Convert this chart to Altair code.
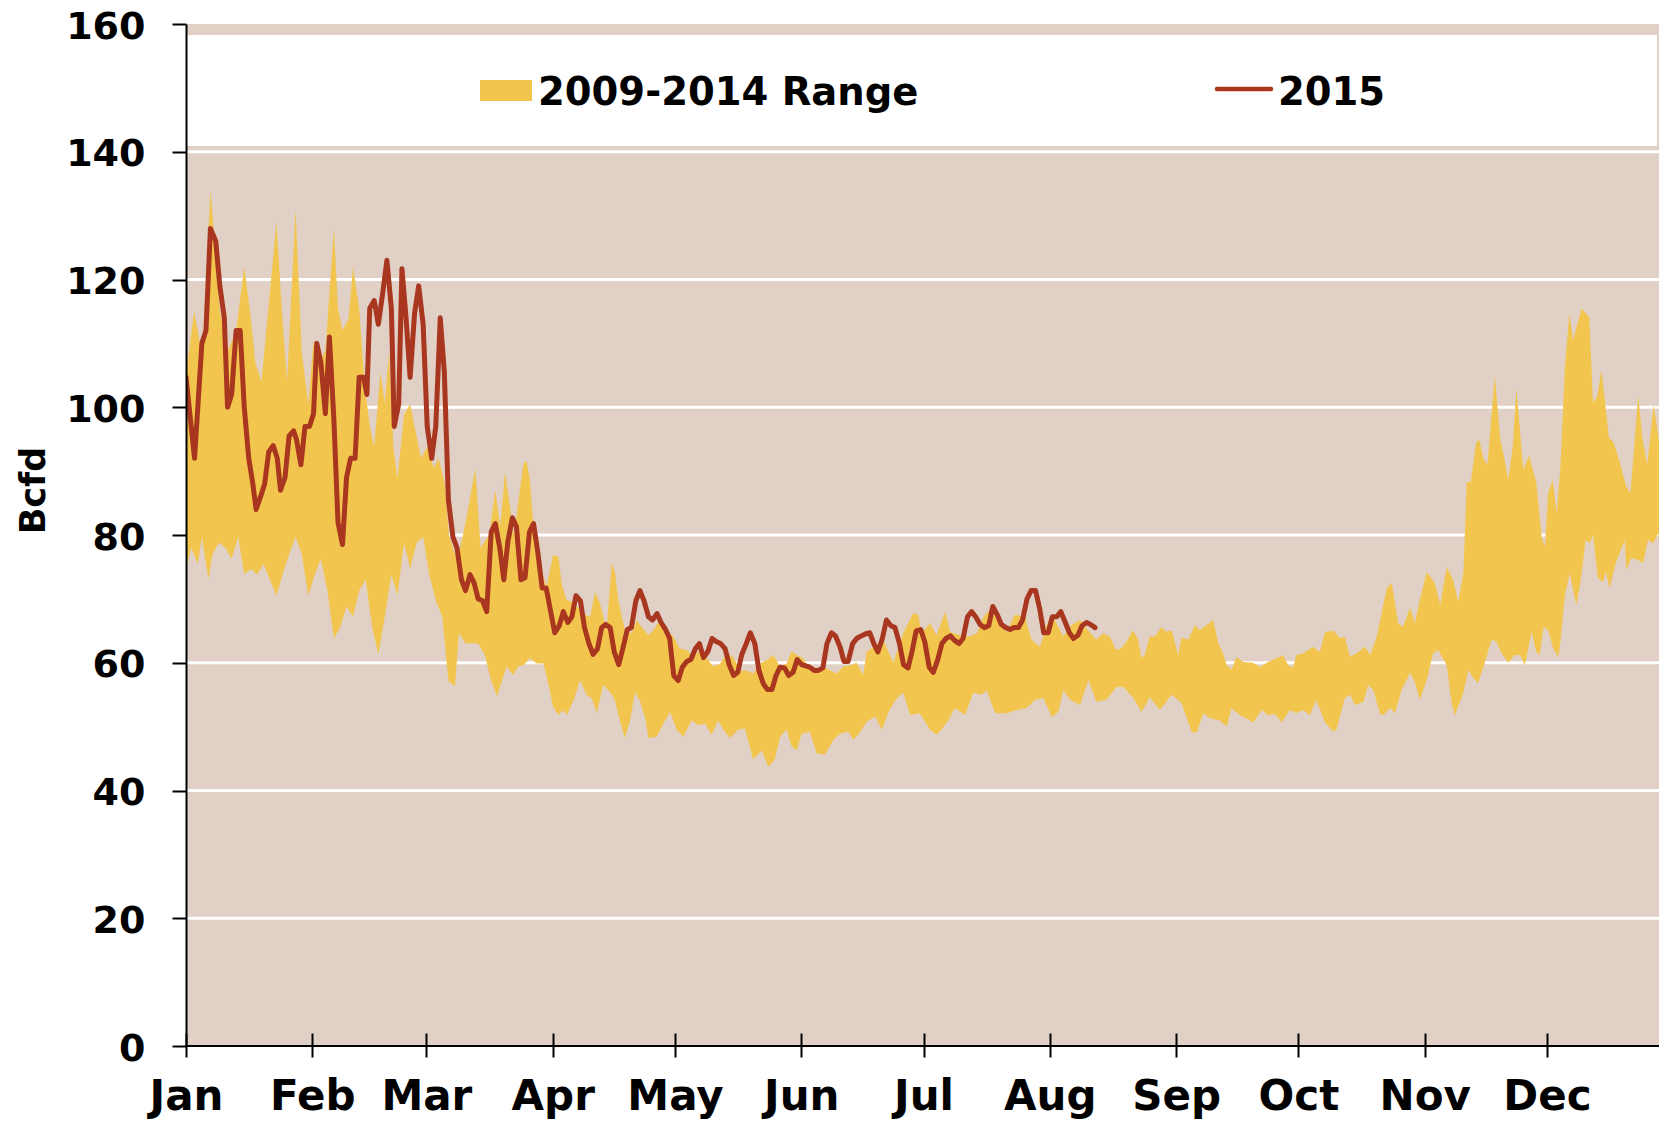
import altair as alt
import pandas as pd

# ---------------- data ----------------
month_names = ["Jan", "Feb", "Mar", "Apr", "May", "Jun", "Jul", "Aug", "Sep", "Oct", "Nov", "Dec"]
month_start_days = [0, 31, 59, 90, 120, 151, 181, 212, 243, 273, 304, 334]
y_ticks = [0, 20, 40, 60, 80, 100, 120, 140, 160]
grid_values = [20, 40, 60, 80, 100, 120, 140]

# 2009-2014 range: upper edge (day of year, Bcfd)
range_hi_days = [0, 2, 4, 6, 7.3, 8.3, 10.4, 12.3, 14.3, 15.9, 17, 18.5, 20, 22.2, 23.5, 24.8, 26.9, 28.4, 30, 31.3,
                 32.6, 34.2, 36.3, 37.3, 38.4, 39.9, 41, 42.5, 43.8, 45.1, 46.2, 47.7, 48.8, 49.8, 50.9, 51.9, 53.5, 55,
                 56.1, 57.7, 59.2, 60.8, 62, 63.5, 64.5, 65.5, 66.5, 68, 69.5, 71, 72.3, 74.4, 75.9,
                 77.1, 78.3, 79.5, 80.5, 82.8, 83.6, 84.4, 85.3, 86.9, 88.5, 90.1, 91.4, 92.2, 93.4, 94.7, 95.9, 97.5,
                 99.2, 100.4, 101.6, 103.2, 104.5, 105.3, 106.1, 107.7, 109.4, 110.6, 111.8, 113.5, 114.7, 116.3, 118,
                 119.6, 121.2, 122.9, 124.5, 126.1, 127.8, 129.4, 131.1, 132.7, 134.3, 136, 137.6, 139.2, 140.8, 142.5,
                 144.1, 145.8, 147.4, 148.6, 149.9, 151.5, 153.1, 154.8, 156.4, 158.1, 159.7, 161.3,
                 163, 164.6, 166.2, 167, 171.1, 173.6, 176, 178.5, 179.7, 180.5, 182.6, 184.2, 186.3, 187.5, 190, 192.4,
                 194.1, 195.7, 197.3, 199, 201.4, 203.4, 205.9, 207.5, 209.6, 211.2, 212.8, 215.3, 217.3, 219.4, 221,
                 223.4, 225.1, 226.7, 228.3, 229.6, 230.8, 232.4, 233.7, 234.5, 235.3, 236.5, 237.8, 239.4, 240.6,
                 241.9, 243.5, 244.3, 246, 247.6,
                 248.8, 252.1, 253.3, 254.5, 255.4, 256.6, 257.8, 259.5, 261.9, 263.6, 265.2, 267.6, 269.2, 270.5,
                 271.7, 272.5, 274.2, 276.6, 278.3, 279.5, 281.6, 283.2, 284.4, 285.7, 287.7, 289.3, 290.6, 292.2,
                 294.7, 295.9, 297.5, 298.7, 300.4, 301.6, 302.8, 304.5, 306.5, 307.8, 309.4, 311, 312.2, 313.5, 314.3,
                 315.3, 316.6, 317.4, 318.4, 319.4, 321.2, 322.5, 323.4, 324.5, 325.6, 326.5, 328.2, 329.6, 331.4,
                 332.7, 333.5, 334.3, 335.4, 336.4, 337.3, 338.4, 339.5, 340.4, 342.5, 344.4, 345.3, 346.3, 347.4,
                 349.2, 350.4, 351.9, 353.5, 354.5, 356.4, 357.4, 358.6, 360.2, 361.5, 363.3]
range_hi_vals = [105, 115, 108, 134, 124, 115, 109, 112, 122, 114, 107, 104, 114, 129, 115.5, 104, 131, 108.8, 100.5,
                 110.5, 107, 108.8, 128, 115.5, 112, 113.8, 122, 115.5, 104, 97, 93.8, 105.5, 100.5, 108.8, 93.8, 88.8,
                 98.8, 100.5, 97, 92, 93.8, 90.5, 92, 88, 80, 78, 76, 80, 85, 90.5, 78, 80, 87,
                 81.3, 89.9, 84.4, 80, 91.2, 91.5, 88.6, 81.3, 75, 71.9, 76.9, 76.6, 72.4, 69.8, 69.6, 68.8, 67.7,
                 67.2, 71.1, 69.3, 65.1, 75.6, 74.1, 69.8, 65.1, 64.6, 66.7, 65.6, 64.3, 65.1, 66.7, 65.1,
                 64.1, 62.2, 62, 60.9, 62, 60.7, 59.4, 59.9, 61.5, 60.9, 58.8, 58.8, 58.3, 59.9, 60.4,
                 61.2, 59.4, 59.9, 61.8, 61.2, 60.7, 58.8, 58.3, 59.4, 58.8, 58.3, 59.4,
                 59.6, 60, 58.1, 61.7, 63.6, 60, 64.6, 67.8, 67.5, 64.6, 66.2, 64.3, 68, 64.8, 64.3, 64.1,
                 64.6, 67.2, 68.3, 67, 64.8, 67.5, 67.2, 63.6, 62.5, 65.9, 67.2, 64.1, 65.9, 66.7, 65.4,
                 63.6, 64.6, 64.1, 62, 62.3, 63.3, 65.1, 63.6, 60.7, 61.2, 64.1, 64.1, 65.6, 64.8,
                 65.1, 61.2, 63.9, 63.6, 65.9,
                 65.1, 66.7, 63.1, 61.5, 59.6, 58.9, 60.9, 60.1, 60, 59.3, 60, 60.7, 61.2, 59.6,
                 59.2, 61.2, 61.5, 62.5, 61.7, 64.8, 65, 63.9, 64, 60.9, 61.7, 62.5, 61.2, 64,
                 71.7, 72.5, 66.2, 65.6, 68.6, 66.2, 69.8, 74.2, 72.5, 69, 75, 73, 69.5, 74, 88.3,
                 88.3, 94.4, 94.9, 92, 91, 105, 95.2, 92.5, 88.6, 93.8, 103, 90.2, 92.5, 88.1,
                 79.7, 78.1, 86.6, 88.6, 83.4, 90.6, 106.3, 114.7, 110.5, 115.5, 114, 100.7, 101.6, 105.8,
                 95.3, 94.4, 91.3, 87.5, 86.6, 101.9, 95.3, 91, 100.4, 94.6, 110.5]

# 2009-2014 range: lower edge
range_lo_days = [0, 1.3, 2.9, 3.9, 5.5, 6.5, 8.1, 9.7, 11.2, 12.8, 14.3, 15.9, 17.5, 19, 20.6, 22.2, 23.7, 25.3, 26.9,
                 28.4, 30, 31.6, 33.1, 34.7, 36.3, 37.8, 39.4, 41, 42.5, 44.1, 45.7, 47.2, 48.8, 50.4, 51.9, 53.5, 55,
                 56.6, 58.2, 59.7, 61.3, 62.9, 64.4, 66, 67, 68.6, 70.2, 71.7, 73.3, 74.9, 76.4,
                 77.1, 78.7, 80.3, 81.5, 82.8, 84.4, 86.1, 87.7, 88.9, 90.1, 91.4, 92.6, 93.4, 95.1, 96.7, 98.3, 99.6,
                 100.8, 102.4, 104.1, 105.3, 106.1, 107.7, 109, 110.2, 111.4, 112.7, 113.5, 115.5, 117.2, 118.8, 120.4,
                 122.1, 124.1, 125.7, 127.4, 129, 130.6, 131.9, 133.5, 135.5, 137.2, 139.2, 141.3, 142.9, 144.5, 145.8,
                 147.4, 148.6, 149.9, 151.1, 153.1, 154.8, 156.8, 158.9, 160.5, 162.6, 163.8, 165.5, 167.1, 169.1,
                 170.8, 172.4, 174.1,
                 176, 177.7, 180.1, 182.6, 184.2, 185.4, 187.1, 188.7, 191.2, 193.2, 195.3, 196.5, 198.6, 201.4, 203.9,
                 206.3, 208.4, 210.4, 212.5, 214.1, 215.3, 217, 219.4, 221.5, 223.4, 225.9, 228.4, 230, 232.4, 234.5,
                 236.5, 239, 241.9, 244.3, 246.8, 248, 249.7, 251.3, 253.7, 255.4, 256.6, 258.6, 261.1,
                 261.9, 264, 265.6, 267.2, 268.9, 270.9, 272.5, 274.2, 275.8, 277.4, 279.5, 281.6, 282.4, 284.4, 285.7,
                 286.9, 289, 290.1, 291.4, 293, 293.8, 295.5, 296.7, 298.3, 300.4, 301.6, 302.8, 304.5, 306.1, 307.3,
                 309.4, 310.6, 311.4, 313.5, 314.7, 315.9, 317.1, 318.8, 320.4, 321.6, 322.9, 324.5, 326.1, 327.4,
                 328.6, 330.2, 331.4, 332.2, 333.2, 334.3, 335.5, 336.8, 337.3, 338.4, 339.6, 341.2, 342.2, 343.5,
                 344.5, 345.3, 346.5, 347.8, 348.4, 349.4, 351, 353.1, 353.5, 354.7, 356.4, 357.6, 358.8, 360.1, 361.3,
                 362.5, 363.3]
range_lo_vals = [74.7, 78, 75.5, 79.7, 73, 77, 78.8, 78, 76.3, 79.7, 73.8, 74.7, 73.8, 75.5, 73, 70.5, 73.8, 77, 79.7,
                 77, 70.5, 73.8, 76.3, 71.3, 63.8, 65.5, 68.8, 67.2, 71.3, 73, 65.5, 61.3, 67.2, 73.8, 70.5, 78.8, 74.7,
                 78.8, 79.7, 73.8, 69.7, 67.2, 57.2, 56.3, 64.7, 63, 63, 63, 61.3, 57.2, 54.7,
                 56.3, 59.4, 58.1, 59.4, 59.6, 60.7, 59.9, 59.9, 56.8, 53.1, 51.8, 52.6, 51.8, 54, 57.3, 55, 54.4,
                 52.1, 56.5, 55.4, 54.1, 51.8, 48.2, 51, 55.4, 54, 51.3, 48.2, 48.4, 50.5, 52.3, 49.5,
                 48.4, 51, 50.2, 50.5, 48.7, 51, 49.5, 48.2, 49.5, 49.7, 44.8, 46.3, 43.7, 44.8, 48.4,
                 49.5, 46.9, 46.3, 48.9, 49.2, 45.8, 45.6, 47.9, 48.9, 49.2, 47.9, 49.2, 50.8, 51.6,
                 49.5, 52.3, 54.1,
                 55.4, 51.8, 52.1, 49.5, 48.7, 49.5, 51, 52.9, 51.8, 55.3, 55, 55.7, 52.1, 52.1, 52.6,
                 52.9, 54.2, 54.5, 51.5, 52.3, 55.7, 54.2, 53.4, 57.3, 53.9, 54.2, 56.2, 56.2, 54.6, 52.3,
                 54.6, 52.6, 55, 53.7, 49.2, 49, 52.1, 51.3, 51, 50, 52.9, 51.8, 51,
                 50.6, 52.6, 51.8, 52, 50.7, 52.6, 52.1, 52.6, 51.8, 54.2, 50.7, 49.2, 49.6, 54.5, 55,
                 53.4, 53.9, 56.5, 55.7, 52.1, 51.8, 52.9, 52.1, 55.7, 58.4, 57, 54.2, 57.3, 61.5, 62,
                 59.6, 53.7, 51.8, 55.3, 58.9, 57.6, 56.8, 60.1, 63.6, 63.3, 61.5, 60, 61.2, 61.2,
                 59.6, 64.8, 61.7, 61.2, 65.6, 65.1, 62.3, 60.9, 63.1, 70.6, 74, 69, 72.5, 79.2,
                 78.7, 80, 73.3, 72.6, 74.2, 71.7, 75.8, 79.2, 74.5, 76.4, 76.1, 75.6, 79.2, 78.7, 80.3,
                 72.5, 71.1]

# 2015 series
line_days = [0, 2.1, 3.9, 4.9, 6, 7.3, 8.3, 9.4, 10.2, 11.2, 12.3, 13.3, 14.3, 15.4, 16.4, 17.2, 18.3, 19.3, 20.3,
             21.4, 22.4, 23.2, 24.3, 25.3, 26.4, 27.1, 28.2, 29.2, 30.3, 31.3, 32.1, 33.1, 34.2, 35.2, 36.3, 37.3,
             38.4, 39.4, 40.4, 41.5, 42.5, 43.6, 44.4, 45.1, 46.2, 47.2, 48.3, 49.3, 50.4, 51.1, 52.2, 53, 54, 55,
             56.1, 57.1, 58.2, 59.2, 60.3, 61.3, 62.4, 63.4, 64.4, 65.5, 66.5, 67.6, 68.6, 69.7, 70.7, 71.7, 72.8,
             73.8, 74.9, 75.9, 77, 78, 79, 80.1, 81.1, 82.2, 83.2, 84.3, 85.3, 86.4, 87.4, 88.4, 89.5, 90.5, 91.6,
             92.6, 93.7, 94.7, 95.7, 96.8, 97.8, 98.9, 99.9, 101, 102, 103, 104.1, 105.1, 106.2, 107.2, 108.3, 109.3,
             110.4, 111.4, 112.4, 113.5, 114.5, 115.6, 116.6, 117.7, 118.7, 119.7, 120.8, 121.8, 122.9, 123.9, 125,
             126, 127, 128.1, 129.1, 130.2, 131.2, 132.3, 133.3, 134.4, 135.4, 136.4, 137.5, 138.5, 139.6, 140.6,
             141.7, 142.7, 143.8, 144.8, 145.8, 146.9, 147.9, 149, 150, 151.1, 152.1, 153.1, 154.2, 155.2, 156.3,
             157.3, 158.4, 159.4, 160.5, 161.5, 162.5, 163.6, 164.6, 165.7, 166.7, 167.8, 168.8, 169.8, 170.9, 171.9,
             173, 174, 175.1, 176.1, 177.2, 178.2, 179.2, 180.3, 181.3, 182.4, 183.4, 184.5, 185.5, 186.5, 187.6,
             188.6, 189.7, 190.7, 191.8, 192.8, 193.8, 194.9, 195.9, 197, 198, 199.1, 200.1, 201.2, 202.2, 203.2,
             204.3, 205.3, 206.4, 207.4, 208.5, 209.5, 210.5, 211.6, 212.6, 213.7, 214.7, 215.8, 216.8, 217.8, 218.9,
             219.9, 221, 222, 223.1]
line_vals = [104.7, 92, 110, 112, 128, 126, 119, 114, 100, 102, 112, 112, 100, 92, 88, 84, 86, 88, 93,
             94, 92, 87, 89, 95.5, 96.3, 95, 91, 97, 97, 99, 110, 107, 99, 111, 98, 82,
             78.5, 89, 92, 92, 104.7, 104.7, 102, 115.5, 116.7, 113, 118, 123, 115.5, 97, 100.5, 121.7, 114, 104.7,
             114.7, 119, 113, 97, 92, 97, 114, 105.5, 85.5, 79.7, 78, 73, 71.3, 73.8, 72.5, 70, 69.7,
             68, 80.5, 81.8, 78, 73, 79, 82.7, 81.3, 73, 73.3, 80.5, 81.8, 77, 71.7, 71.7, 68, 64.7, 65.8,
             68, 66.3, 67.2, 70.5, 69.7, 65.5, 63, 61.3, 62.2, 65.5, 66, 65.5, 61.7, 59.7, 62.2, 65.2, 65.5,
             69.7, 71.3, 69.7, 67.2, 66.7, 67.7, 66.3, 65.2, 63.8, 58, 57.2, 59.3, 60.2, 60.5, 62.2,
             63, 60.8, 61.8, 63.8, 63.3, 63, 62.2, 59.7, 58, 58.5, 61.3, 63, 64.7, 63, 58.8,
             56.7, 55.8, 55.8, 58, 59.3, 59.2, 58, 58.5, 60.5, 59.7, 59.5, 59.3, 58.8, 58.8, 59.2,
             63, 64.7, 64.2, 62.5, 60.2, 60.2, 63, 63.8, 64.2, 64.5, 64.7, 63, 61.7, 63.8, 66.7,
             65.8, 65.5, 63, 59.7, 59.2, 61.8, 65, 65.2, 63.3, 59.3, 58.5, 60.5, 63, 63.8, 64.2,
             63.5, 63, 63.8, 67.2, 68, 67.2, 66, 65.5, 65.8, 68.8, 67.5, 66, 65.5, 65.2, 65.5,
             65.5, 66.7, 70, 71.3, 71.3, 68.5, 64.7, 64.7, 67.2, 67.2, 68, 66.3, 64.7, 63.8, 64.3,
             65.8, 66.3, 66, 65.5]

legend_labels = ["2009-2014 Range", "2015"]

# ---------------- styling ----------------
TAN = "#E0D0C5"
YELLOW = "#F2C64E"
RED = "#A9361E"
FONT = "DejaVu Sans"
W, H = 1473, 1022
X_END = 361.5

# polygon of the range: upper edge left->right, then lower edge right->left
poly = pd.DataFrame({
    "day": range_hi_days + range_lo_days[::-1],
    "val": range_hi_vals + range_lo_vals[::-1],
})
poly["seq"] = range(len(poly))
line_df = pd.DataFrame({"day": line_days, "val": line_vals})
grid_df = pd.DataFrame({"val": grid_values})
one = pd.DataFrame({"k": [0]})

names_js = "[" + ",".join(f"'{m}'" for m in month_names) + "]"
days_js = "[" + ",".join(str(d) for d in month_start_days) + "]"

x_scale = alt.Scale(domain=[0, X_END], nice=False, zero=False)
y_scale = alt.Scale(domain=[0, 160], nice=False)

x_axis = alt.Axis(values=month_start_days, labelExpr=f"{names_js}[indexof({days_js}, datum.value)]",
                  grid=False, domain=False, ticks=True, tickColor="black", tickWidth=2, tickSize=24,
                  offset=-13, labelFont=FONT, labelFontWeight="bold", labelFontSize=42, labelColor="black",
                  labelPadding=19, labelFlush=False, labelOverlap=False, title="", zindex=1)
y_axis = alt.Axis(values=y_ticks, grid=False, domainColor="black", domainWidth=2, tickColor="black",
                  tickWidth=2, tickSize=14, labelFont=FONT, labelFontWeight="bold", labelFontSize=38,
                  labelColor="black", labelPadding=27, labelFlush=False, labelOverlap=False,
                  labelBaseline="alphabetic", labelOffset=14,
                  title="Bcfd", titleFont=FONT, titleFontWeight="bold", titleFontSize=35, titleColor="black",
                  titleAngle=270, titleX=-153, titleY=466, titleAlign="center", titleBaseline="middle", zindex=1)

X = alt.X("day:Q", scale=x_scale, axis=x_axis)
Y = alt.Y("val:Q", scale=y_scale, axis=y_axis)

grid = alt.Chart(grid_df).mark_rule(color="white", strokeWidth=3).encode(y=Y)

band = alt.Chart(poly).mark_line(filled=True, color=YELLOW, clip=True).encode(
    x=X, y=Y, order=alt.Order("seq:Q"))

line = alt.Chart(line_df).mark_line(color=RED, strokeWidth=5, strokeJoin="round", strokeCap="round",
                                    clip=True).encode(x=X, y=Y)

x_domain = alt.Chart(one).mark_rule(color="black", strokeWidth=2).encode(
    x=alt.value(0), x2=alt.value(W), y=alt.value(H))

legend_box = alt.Chart(one).mark_rect(color="white").encode(
    x=alt.value(0), x2=alt.value(W - 2), y=alt.value(11), y2=alt.value(122))
swatch = alt.Chart(one).mark_rect(color=YELLOW).encode(
    x=alt.value(294), x2=alt.value(346), y=alt.value(56), y2=alt.value(77))
legend_line = alt.Chart(one).mark_rule(color=RED, strokeWidth=4.5, strokeCap="round").encode(
    x=alt.value(1031), x2=alt.value(1085), y=alt.value(65))
txt_kw = dict(align="left", baseline="alphabetic", font=FONT, fontWeight="bold", fontSize=38.5, color="black")
t1 = alt.Chart(one).mark_text(**txt_kw).encode(x=alt.value(352), y=alt.value(81), text=alt.value(legend_labels[0]))
t2 = alt.Chart(one).mark_text(**txt_kw).encode(x=alt.value(1092), y=alt.value(81), text=alt.value(legend_labels[1]))

chart = alt.layer(grid, band, line, x_domain, legend_box, swatch, legend_line, t1, t2).properties(
    width=W, height=H,
    padding={"left": 178, "top": 16, "right": 0, "bottom": 73},
    autosize=alt.AutoSizeParams(type="none"),
    background="white",
).configure_view(fill=TAN, strokeWidth=0)

chart.save("out.html", embed_options={"renderer": "svg", "actions": False})
